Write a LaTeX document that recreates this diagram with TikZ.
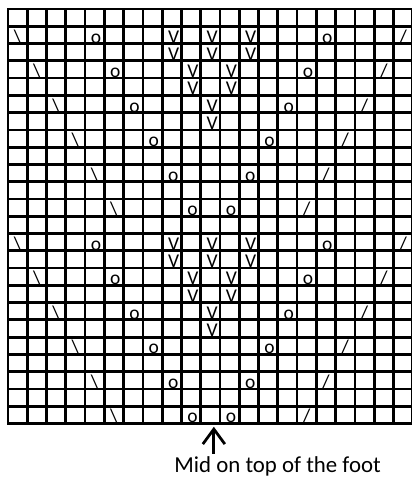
\documentclass[tikz,border=0pt]{standalone}
\usepackage{fontspec}
\setmainfont{Carlito}
\usetikzlibrary{arrows.meta, positioning, calc}
\definecolor{tinta}{HTML}{000000}
\tikzset{
  linea/.style={line width=0.055cm, color=tinta},
  simbolo/.style={anchor=base west, inner sep=0pt, xshift=0.11cm, yshift=0.01cm,
                  font=\fontsize{11.1}{13}\selectfont, text=tinta},
  rotulo/.style={anchor=base, inner sep=0pt, font=\fontsize{13}{15}\selectfont, text=tinta},
  flecha/.style={line width=0.055cm, color=tinta, -{Straight Barb[length=0.3cm, width=0.44cm]}}
}

\begin{document}
\begin{tikzpicture}[x=0.3854cm, y=-0.3454cm]
  \useasboundingbox (-0.16cm,0.18cm) rectangle (8.06cm,-9.36cm);
  % cuadricula
  \foreach \i in {1,...,20} \draw[linea] (\i,0) -- (\i,24);
  \foreach \j in {1,...,23} \draw[linea] (0,\j) -- (21,\j);
  \draw[linea] (0,0) rectangle (21,24);
  % dos repeticiones del motivo
  \foreach \b in {0,12} {
    \foreach \k in {0,...,5} {
      \pgfmathtruncatemacro\fila{\b+2+2*\k}
      \node[simbolo] (izq-\fila) at (\k,\fila) {\textbackslash};
      \node[simbolo] (der-\fila) at (20-\k,\fila) {/};
      \node[simbolo] (ojoa-\fila) at (4+\k,\fila) {o};
      \node[simbolo] (ojob-\fila) at (16-\k,\fila) {o};
    }
    \foreach \f/\c in {2/8,2/10,2/12,3/8,3/10,3/12,4/9,4/11,5/9,5/11,6/10,7/10} {
      \pgfmathtruncatemacro\fila{\b+\f}
      \node[simbolo] (v-\fila-\c) at (\c,\fila) {V};
    }
  }
  % rotulo y flecha
  \node[rotulo] (pie) at (13.99,26.86) {Mid on top of the foot};
  \coordinate (medio) at ([xshift=0.07cm]10.5,24.19);
  \draw[flecha, shorten <=0.06cm] (pie.north -| medio) -- (medio);
\end{tikzpicture}
\end{document}
